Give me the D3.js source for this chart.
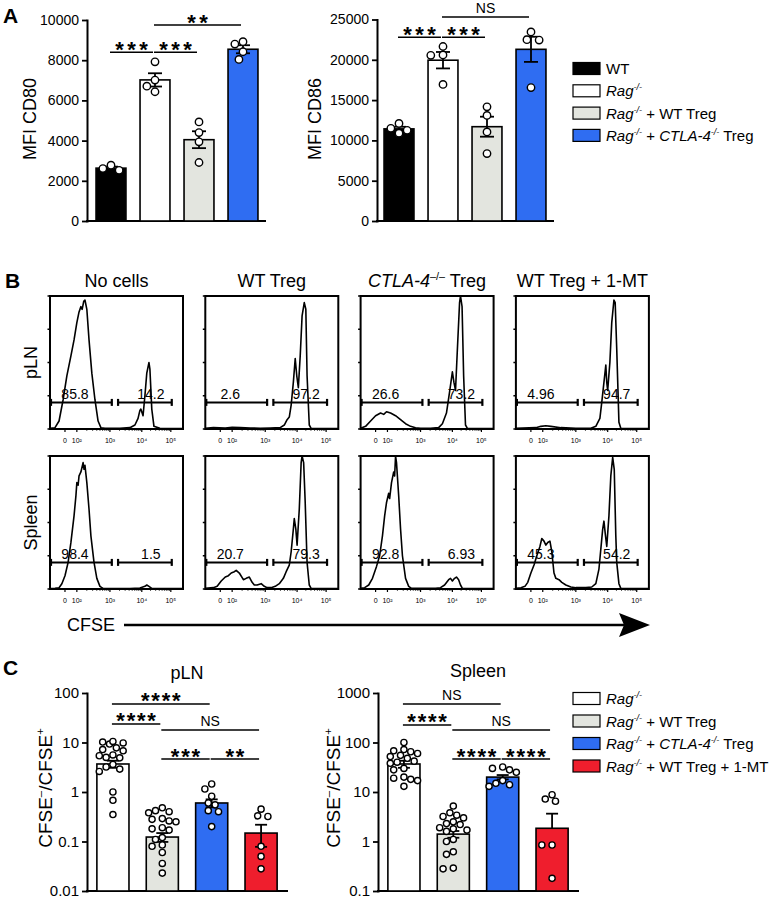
<!DOCTYPE html>
<html><head><meta charset="utf-8">
<script src="https://cdn.jsdelivr.net/npm/d3@7/dist/d3.min.js"></script>
<style>
html,body{margin:0;padding:0;background:#fff;}
text{font-family:"Liberation Sans",Arial,Helvetica,sans-serif;fill:#000;}
</style></head><body>
<svg id="fig" width="770" height="901" xmlns="http://www.w3.org/2000/svg"></svg>
<script>
// ================= DATA =================
// Panel A
const colorsA = ["#000000", "#ffffff", "#e3e5df", "#2f6df2"];
const cd80Mean = [2630, 7020, 4045, 8545];
const cd80Sem = [75, 330, 420, 200];
const cd80Pts = [[2610, 2775, 2520], [7920, 7010, 6710, 6430], [4930, 4400, 3940, 2910], [8920, 8800, 8420, 8040]];
const cd80Ticks = [0, 2000, 4000, 6000, 8000, 10000];
const cd86Mean = [11430, 19950, 11700, 21300];
const cd86Sem = [260, 1020, 1240, 1560];
const cd86Pts = [[11500, 12100, 10900, 11250], [20600, 20550, 21650, 16950], [13100, 14170, 11050, 8360], [22500, 22450, 23460, 16560]];
const cd86Ticks = [0, 5000, 10000, 15000, 20000, 25000];
const sigCD80 = [[0, 1, "***", 8400], [1, 2, "***", 8400], [1, 3, "**", 9750]];
const sigCD86 = [[0, 1, "***", 22800], [1, 2, "***", 22800], [1, 3, "NS", 25300]];
const legendA = [
  [{t: "WT"}],
  [{t: "Rag", i: 1}, {t: "-/-", i: 1, sup: 1}],
  [{t: "Rag", i: 1}, {t: "-/-", i: 1, sup: 1}, {t: " + WT Treg"}],
  [{t: "Rag", i: 1}, {t: "-/-", i: 1, sup: 1}, {t: " + "}, {t: "CTLA-4", i: 1}, {t: "-/-", i: 1, sup: 1}, {t: " Treg"}]
];

// Panel B (histograms: [display log units, % of max])
const histColTitles = [
  [{t: "No cells"}],
  [{t: "WT Treg"}],
  [{t: "CTLA-4", i: 1}, {t: "–/–", sup: 1}, {t: " Treg"}],
  [{t: "WT Treg + 1-MT"}]
];
const histRowTitles = ["pLN", "Spleen"];
const cfseTickVals = [1.62, 2.00, 3.06, 4.08, 5.01];
const cfseTickLabels = ["0", "10²", "10³", "10⁴", "10⁵"];
const cfseDomain = [1.14, 5.40];
const gateNeg = [1.14, 3.12];
const gatePos = [3.32, 5.04];
const gateLevel = 20;
const gateLabelPos = [1.94, 4.37];
const histPLN = [
  [[1.14,0.5],[1.30,1],[1.43,6],[1.56,22],[1.68,40],[1.81,55],[1.91,67],[2.00,80],[2.07,88],[2.13,92],[2.17,90],[2.22,96],[2.26,97],[2.32,90],[2.39,67],[2.48,42],[2.58,22],[2.68,6],[2.77,1],[2.90,0.5],[3.38,0.5],[3.70,1],[3.86,3],[3.96,8],[4.02,14],[4.05,15],[4.12,10],[4.18,25],[4.24,42],[4.31,50],[4.34,45],[4.40,15],[4.47,2],[4.66,0.5],[5.40,0.3]],
  [[1.14,0.5],[1.40,1],[1.78,0.8],[2.00,1.2],[2.26,1],[2.58,0.8],[2.90,0.6],[3.22,0.8],[3.54,1],[3.67,3],[3.76,7],[3.83,9],[3.89,18],[3.96,35],[4.02,53],[4.07,40],[4.12,31],[4.18,55],[4.24,85],[4.31,95],[4.36,90],[4.40,40],[4.47,3],[4.53,0.5],[5.40,0.3]],
  [[1.14,0.5],[1.30,2],[1.46,6],[1.62,10],[1.78,12],[1.88,11],[1.97,13],[2.10,12],[2.26,10],[2.42,7],[2.58,4],[2.74,2],[2.90,1],[3.06,0.5],[3.38,0.5],[3.64,1],[3.76,4],[3.89,12],[3.99,28],[4.08,43],[4.13,35],[4.18,29],[4.24,60],[4.31,95],[4.34,100],[4.39,92],[4.44,40],[4.50,3],[4.56,0.5],[5.40,0.3]],
  [[1.14,0.5],[1.78,1],[1.94,2],[2.10,2.5],[2.26,2],[2.58,1],[3.06,0.5],[3.54,0.5],[3.70,2],[3.83,8],[3.89,20],[3.96,35],[4.02,48],[4.05,35],[4.08,29],[4.15,50],[4.21,80],[4.28,97],[4.32,95],[4.37,60],[4.44,5],[4.50,0.5],[5.40,0.3]]
];
const histSpleen = [
  [[1.14,0.3],[1.30,0.5],[1.43,1],[1.52,4],[1.62,10],[1.72,20],[1.81,35],[1.91,55],[1.97,70],[2.00,80],[2.04,78],[2.07,85],[2.13,88],[2.20,95],[2.23,90],[2.26,93],[2.32,80],[2.39,60],[2.45,40],[2.55,20],[2.64,8],[2.74,2],[2.84,0.5],[3.70,0.3],[4.02,0.8],[4.18,2],[4.24,3],[4.31,2],[4.40,0.5],[5.40,0.3]],
  [[1.14,0.5],[1.40,1],[1.52,2],[1.65,6],[1.78,9],[1.88,10],[1.97,12],[2.07,13],[2.13,14],[2.23,12],[2.36,7],[2.45,8],[2.55,9],[2.64,5],[2.71,3],[2.80,3],[2.93,4],[3.03,2],[3.12,1],[3.25,1],[3.38,2],[3.51,4],[3.64,8],[3.73,13],[3.83,18],[3.89,28],[3.96,45],[3.99,53],[4.04,45],[4.08,33],[4.15,60],[4.21,95],[4.24,100],[4.29,95],[4.34,65],[4.40,20],[4.47,3],[4.53,0.5],[5.40,0.3]],
  [[1.14,0.5],[1.27,1],[1.40,3],[1.52,8],[1.65,17],[1.75,25],[1.84,40],[1.91,55],[1.97,65],[2.04,72],[2.07,68],[2.13,80],[2.20,88],[2.23,85],[2.26,100],[2.29,95],[2.36,70],[2.42,45],[2.48,25],[2.58,8],[2.68,2],[2.77,0.5],[3.54,0.5],[3.70,1],[3.83,3],[3.96,7],[4.02,8],[4.08,6],[4.15,8],[4.21,9],[4.28,7],[4.34,3],[4.40,0.5],[5.40,0.3]],
  [[1.14,0.5],[1.30,1],[1.43,2],[1.52,5],[1.62,12],[1.72,18],[1.81,25],[1.91,32],[1.97,38],[2.04,36],[2.10,33],[2.16,35],[2.23,36],[2.29,28],[2.36,12],[2.42,8],[2.52,7],[2.61,5],[2.74,3],[2.90,1.5],[3.06,1],[3.38,1],[3.57,1.5],[3.70,4],[3.80,15],[3.86,30],[3.92,45],[3.96,51],[4.00,42],[4.05,32],[4.12,55],[4.18,85],[4.24,99],[4.29,90],[4.34,40],[4.37,20],[4.44,4],[4.50,0.5],[5.40,0.3]]
];
const gatePLN = [["85.8", "14.2"], ["2.6", "97.2"], ["26.6", "73.2"], ["4.96", "94.7"]];
const gateSpleen = [["98.4", "1.5"], ["20.7", "79.3"], ["92.8", "6.93"], ["45.3", "54.2"]];
const histYTicks = [0, 25, 50, 75, 100];

// Panel C
const colorsC = ["#ffffff", "#e3e5df", "#2f6df2", "#ef1e2d"];
const pLNMean = [3.68, 0.123, 0.60, 0.148];
const pLNSem = [0.6, 0.025, 0.11, 0.07];
const pLNPts = [
  [10.2, 9.3, 9.8, 10.5, 7.8, 7.2, 6.8, 5.4, 5.0, 5.6, 4.9, 3.6, 2.9, 3.2, 2.6, 1.0, 0.68, 0.35],
  [0.48, 0.38, 0.40, 0.42, 0.28, 0.26, 0.29, 0.25, 0.18, 0.17, 0.19, 0.12, 0.11, 0.085, 0.08, 0.06, 0.036, 0.023],
  [1.45, 1.15, 0.82, 0.60, 0.55, 0.42, 0.40, 0.20],
  [0.45, 0.33, 0.32, 0.08, 0.05, 0.028]
];
const pLNTicks = [0.01, 0.1, 1, 10, 100];
const pLNTickLabels = ["0.01", "0.1", "1", "10", "100"];
const spleenMean = [36.8, 1.41, 20.0, 1.85];
const spleenSem = [6, 0.22, 2, 1.8];
const spleenPts = [
  [100, 72, 68, 65, 60, 55, 52, 48, 42, 40, 38, 30, 28, 20, 19, 18, 17, 13],
  [5.2, 3.8, 3.4, 3.2, 3.0, 2.5, 2.3, 2.2, 1.9, 1.8, 1.7, 1.6, 1.1, 1.0, 0.62, 0.55, 0.29, 0.28],
  [32, 28, 25, 30, 17, 14, 13, 15],
  [8.8, 6.5, 7.2, 0.85, 0.85, 0.18]
];
const spleenTicks = [0.1, 1, 10, 100, 1000];
const spleenTickLabels = ["0.1", "1", "10", "100", "1000"];
const sigPLN = [[0, 2, "****", 60], [0, 1, "****", 23.7], [1, 3, "NS", 17.9], [1, 2, "***", 4.64], [2, 3, "**", 4.64]];
const sigSpleen = [[0, 2, "NS", 600], [0, 1, "****", 226], [1, 3, "NS", 179], [1, 2, "****", 46.4], [2, 3, "****", 46.4]];
const legendC = [
  [{t: "Rag", i: 1}, {t: "-/-", i: 1, sup: 1}],
  [{t: "Rag", i: 1}, {t: "-/-", i: 1, sup: 1}, {t: " + WT Treg"}],
  [{t: "Rag", i: 1}, {t: "-/-", i: 1, sup: 1}, {t: " + "}, {t: "CTLA-4", i: 1}, {t: "-/-", i: 1, sup: 1}, {t: " Treg"}],
  [{t: "Rag", i: 1}, {t: "-/-", i: 1, sup: 1}, {t: " + WT Treg + 1-MT"}]
];

// ================= DRAWING =================
const svg = d3.select("#fig");

function richText(sel, parts, size) {
  let shifted = 0;
  parts.forEach(p => {
    const ts = sel.append("tspan").text(p.t);
    if (p.i) ts.attr("font-style", "italic");
    const want = p.sup ? -size * 0.4 : 0;
    if (want !== shifted) { ts.attr("dy", want - shifted); shifted = want; }
    if (p.sup) ts.attr("font-size", size * 0.6);
  });
}

function rotLabel(cx, cy, size, parts) {
  const t = svg.append("text")
    .attr("transform", `translate(${cx + size * 0.36},${cy}) rotate(-90)`)
    .attr("text-anchor", "middle").attr("font-size", size);
  richText(t, parts, size);
}

function swarm(vals, y, r, maxOff) {
  const placed = [];
  const order = vals.map((v, i) => ({v, i, py: y(v)})).sort((a, b) => a.py - b.py);
  const res = new Array(vals.length).fill(0);
  const step = r * 1.1;
  order.forEach(o => {
    let best = null, bestOv = Infinity, bestOff = 0;
    for (let k = 0; k < 30; k++) {
      const off = k === 0 ? 0 : (k % 2 ? -1 : 1) * Math.ceil(k / 2) * step;
      if (Math.abs(off) > maxOff) continue;
      const ov = d3.sum(placed, p => Math.max(0, 2 * r + 0.8 - Math.hypot(p.x - off, p.y - o.py)));
      if (ov === 0) { best = off; break; }
      if (ov < bestOv) { bestOv = ov; bestOff = off; }
    }
    if (best === null) best = bestOff;
    placed.push({x: best, y: o.py});
    res[o.i] = best;
  });
  return res;
}

function barPanel(o) {
  const g = svg.append("g");
  const n = o.means.length;
  const x = d3.scaleBand().domain(d3.range(n)).range([o.bx0, o.bx1])
    .paddingInner(o.pi).paddingOuter(o.po);
  const y = o.y;
  const y0 = y.range()[0];
  // axis
  const ax = d3.axisLeft(y).tickValues(o.ticks).tickFormat((d, i) => o.tickLabels[i])
    .tickSize(5).tickPadding(3).tickSizeOuter(0);
  const axg = g.append("g").attr("transform", `translate(${o.axisX},0)`).call(ax);
  axg.select(".domain").attr("stroke-width", 2).attr("stroke-linecap", "square");
  axg.selectAll(".tick line").attr("stroke-width", 1.8);
  axg.selectAll(".tick text").attr("font-size", o.tickFont).attr("font-family", null);
  g.append("line").attr("x1", o.axisX).attr("x2", o.bx1).attr("y1", y0).attr("y2", y0)
    .attr("stroke", "#000").attr("stroke-width", 2).attr("stroke-linecap", "square");
  // bars
  g.selectAll("rect.bar").data(o.means).join("rect")
    .attr("x", (d, i) => x(i)).attr("width", x.bandwidth())
    .attr("y", d => y(d)).attr("height", d => y0 - y(d))
    .attr("fill", (d, i) => o.colors[i]).attr("stroke", "#000").attr("stroke-width", 1.6);
  // error bars
  o.means.forEach((m, i) => {
    const cx = x(i) + x.bandwidth() / 2;
    const hi = m + o.sem[i], lo = m - o.sem[i];
    const yd = y.domain()[0];
    const yHi = y(hi);
    const loOk = lo > yd;
    const yLo = loOk ? y(lo) : y(m);
    g.append("line").attr("x1", cx).attr("x2", cx).attr("y1", yLo).attr("y2", yHi)
      .attr("stroke", "#000").attr("stroke-width", 1.8);
    g.append("line").attr("x1", cx - o.cap / 2).attr("x2", cx + o.cap / 2).attr("y1", yHi).attr("y2", yHi)
      .attr("stroke", "#000").attr("stroke-width", 1.8);
    if (loOk) g.append("line").attr("x1", cx - o.cap / 2).attr("x2", cx + o.cap / 2).attr("y1", yLo).attr("y2", yLo)
      .attr("stroke", "#000").attr("stroke-width", 1.8);
  });
  // points
  o.points.forEach((pts, i) => {
    const cx = x(i) + x.bandwidth() / 2;
    const offs = swarm(pts, y, o.r, x.bandwidth() / 2 - 1);
    g.selectAll(null).data(pts).join("circle")
      .attr("cx", (d, k) => cx + offs[k]).attr("cy", d => y(d)).attr("r", o.r)
      .attr("fill", "#fff").attr("stroke", "#000").attr("stroke-width", 1.4);
  });
  // significance
  o.sig.forEach(([a, b, lab, lvl]) => {
    const xa = x(a) + x.bandwidth() / 2 - 1, xb = x(b) + x.bandwidth() / 2 - 2;
    const ly = y(lvl);
    g.append("line").attr("x1", xa).attr("x2", xb).attr("y1", ly).attr("y2", ly)
      .attr("stroke", "#000").attr("stroke-width", 1.5);
    const isNS = lab === "NS";
    g.append("text").attr("x", (xa + xb) / 2 + (isNS ? 0 : o.starSp / 2)).attr("y", isNS ? ly - 4 : ly + 4.5)
      .attr("text-anchor", "middle")
      .attr("font-size", isNS ? 14 : 22).attr("font-weight", isNS ? null : "bold")
      .attr("letter-spacing", isNS ? null : o.starSp)
      .text(lab);
  });
  return {x, y};
}

function legend(x0, yc, dy, colors, labels, size) {
  labels.forEach((parts, i) => {
    const cy = yc + i * dy;
    svg.append("rect").attr("x", x0).attr("y", cy - 6).attr("width", 27).attr("height", 12)
      .attr("fill", colors[i]).attr("stroke", "#000").attr("stroke-width", 1.2);
    const t = svg.append("text").attr("x", x0 + 33).attr("y", cy + 5.5).attr("font-size", size);
    richText(t, parts, size);
  });
}

// ---------- Panel A ----------
svg.append("text").attr("x", 3).attr("y", 23).attr("font-size", 21).attr("font-weight", "bold").text("A");
barPanel({
  axisX: 87, bx0: 89, bx1: 265, pi: 0.32, po: 0.16,
  y: d3.scaleLinear().domain([0, 10000]).range([221, 20]),
  ticks: cd80Ticks, tickLabels: cd80Ticks.map(String), tickFont: 14,
  means: cd80Mean, sem: cd80Sem, points: cd80Pts, colors: colorsA,
  r: 3.7, cap: 14, sig: sigCD80, starSp: 3.5
});
rotLabel(30, 119, 18, [{t: "MFI CD80"}]);
barPanel({
  axisX: 377, bx0: 377, bx1: 553, pi: 0.32, po: 0.16,
  y: d3.scaleLinear().domain([0, 25000]).range([221, 19.5]),
  ticks: cd86Ticks, tickLabels: cd86Ticks.map(String), tickFont: 14,
  means: cd86Mean, sem: cd86Sem, points: cd86Pts, colors: colorsA,
  r: 3.7, cap: 14, sig: sigCD86, starSp: 3.5
});
rotLabel(315, 119, 18, [{t: "MFI CD86"}]);
legend(573, 68.5, 22.3, colorsA, legendA, 15);

// ---------- Panel B ----------
svg.append("text").attr("x", 5).attr("y", 288).attr("font-size", 21).attr("font-weight", "bold").text("B");
const boxW = 133, boxH = 133, colStep = 155.3, col0 = 50, rowTops = [296, 456];
const line = d3.line().curve(d3.curveLinear);
histColTitles.forEach((parts, c) => {
  const t = svg.append("text").attr("x", col0 + c * colStep + boxW / 2).attr("y", 287)
    .attr("text-anchor", "middle").attr("font-size", 18);
  richText(t, parts, 18);
});
[histPLN, histSpleen].forEach((rowData, r) => {
  const top = rowTops[r];
  rotLabel(31, top + boxH / 2, 18, [{t: histRowTitles[r]}]);
  const gates = r === 0 ? gatePLN : gateSpleen;
  rowData.forEach((hist, c) => {
    const left = col0 + c * colStep;
    const x = d3.scaleLinear().domain(cfseDomain).range([left, left + boxW]);
    const y = d3.scaleLinear().domain([0, 100]).range([top + boxH, top]);
    const g = svg.append("g");
    const cid = `clip${r}${c}`;
    g.append("clipPath").attr("id", cid).append("rect")
      .attr("x", left).attr("y", top).attr("width", boxW).attr("height", boxH);
    g.append("path").attr("clip-path", `url(#${cid})`)
      .attr("d", line(hist.map(d => [x(d[0]), y(d[1])])))
      .attr("fill", "none").attr("stroke", "#000").attr("stroke-width", 1.6).attr("stroke-linejoin", "round");
    g.append("rect").attr("x", left).attr("y", top).attr("width", boxW).attr("height", boxH)
      .attr("fill", "none").attr("stroke", "#000").attr("stroke-width", 2);
    // y ticks
    histYTicks.forEach(v => {
      g.append("line").attr("x1", left - 2.5).attr("x2", left).attr("y1", y(v)).attr("y2", y(v))
        .attr("stroke", "#000").attr("stroke-width", 1.5);
    });
    // x ticks
    cfseTickVals.forEach((v, k) => {
      g.append("line").attr("x1", x(v)).attr("x2", x(v)).attr("y1", top + boxH).attr("y2", top + boxH + 3)
        .attr("stroke", "#000").attr("stroke-width", 1.2);
      g.append("text").attr("x", x(v)).attr("y", top + boxH + 13.5).attr("text-anchor", "middle")
        .attr("font-size", 7).text(cfseTickLabels[k]);
    });
    for (let k = 1; k < cfseTickVals.length - 1; k++) {
      const a = cfseTickVals[k], b = cfseTickVals[k + 1];
      for (let m = 2; m <= 9; m++) {
        const v = a + Math.log10(m) * (b - a);
        g.append("line").attr("x1", x(v)).attr("x2", x(v)).attr("y1", top + boxH).attr("y2", top + boxH + 1.8)
          .attr("stroke", "#000").attr("stroke-width", 0.8);
      }
    }
    // gates
    const gy = y(gateLevel);
    [gateNeg, gatePos].forEach((gt, k) => {
      const xa = x(gt[0]) + (k === 0 ? 1 : 0), xb = x(gt[1]);
      g.append("line").attr("x1", xa).attr("x2", xb).attr("y1", gy).attr("y2", gy)
        .attr("stroke", "#000").attr("stroke-width", 2);
      [xa, xb].forEach(xx => g.append("line").attr("x1", xx).attr("x2", xx).attr("y1", gy - 3.5).attr("y2", gy + 3.5)
        .attr("stroke", "#000").attr("stroke-width", 2.2));
      g.append("text").attr("x", x(gateLabelPos[k])).attr("y", gy - 3).attr("text-anchor", "middle")
        .attr("font-size", 14).text(gates[c][k]);
    });
  });
});
// CFSE arrow
svg.append("text").attr("x", 67).attr("y", 631).attr("font-size", 18).text("CFSE");
svg.append("line").attr("x1", 124).attr("x2", 625).attr("y1", 625).attr("y2", 625)
  .attr("stroke", "#000").attr("stroke-width", 2.4);
svg.append("path").attr("d", "M650,625 L619,613 L624,625 L619,637 Z").attr("fill", "#000");

// ---------- Panel C ----------
svg.append("text").attr("x", 3).attr("y", 675).attr("font-size", 21).attr("font-weight", "bold").text("C");
svg.append("text").attr("x", 187).attr("y", 679).attr("text-anchor", "middle").attr("font-size", 18).text("pLN");
svg.append("text").attr("x", 478).attr("y", 677).attr("text-anchor", "middle").attr("font-size", 18).text("Spleen");
barPanel({
  axisX: 87, bx0: 87, bx1: 287, pi: 0.35, po: 0.2,
  y: d3.scaleLog().domain([0.01, 100]).range([891, 693]),
  ticks: pLNTicks, tickLabels: pLNTickLabels, tickFont: 15,
  means: pLNMean, sem: pLNSem, points: pLNPts, colors: colorsC,
  r: 3.1, cap: 12, sig: sigPLN, starSp: 1.8
});
barPanel({
  axisX: 378, bx0: 378, bx1: 578, pi: 0.35, po: 0.2,
  y: d3.scaleLog().domain([0.1, 1000]).range([891, 693]),
  ticks: spleenTicks, tickLabels: spleenTickLabels, tickFont: 15,
  means: spleenMean, sem: spleenSem, points: spleenPts, colors: colorsC,
  r: 3.1, cap: 12, sig: sigSpleen, starSp: 1.8
});
const cyl = [{t: "CFSE"}, {t: "–", sup: 1}, {t: "/CFSE"}, {t: "+", sup: 1}];
rotLabel(45, 788, 19, cyl);
rotLabel(333, 788, 19, cyl);
legend(573, 698.5, 22.5, colorsC, legendC, 15);
</script>
</body></html>
